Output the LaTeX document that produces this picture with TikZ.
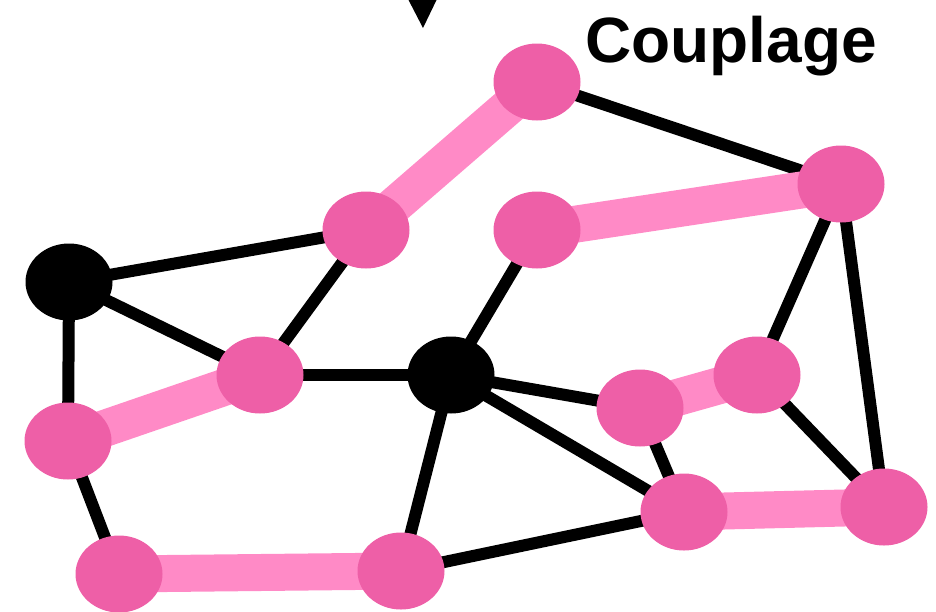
\documentclass[tikz,border=0pt]{standalone}
\usepackage{fontspec}
\setmainfont{Liberation Sans}
\usetikzlibrary{shapes.geometric,backgrounds}
\definecolor{vertexpink}{HTML}{EE5FA7}
\definecolor{matchpink}{HTML}{FF8AC6}
\tikzset{
  vtx/.style={ellipse, fill=vertexpink, minimum width=87pt, minimum height=77pt, inner sep=0pt},
  blackvtx/.style={vtx, fill=black},
  edge/.style={line width=12pt, black},
  matched/.style={line width=37pt, matchpink}
}
\begin{document}
\begin{tikzpicture}[x=1pt,y=-1pt]
\useasboundingbox (0,0) rectangle (936,611);
% vertices
\node[vtx] (a) at (537,82) {};
\node[vtx] (b) at (841,184) {};
\node[vtx] (c) at (366,230) {};
\node[vtx] (d) at (537,230) {};
\node[blackvtx] (k1) at (69,282) {};
\node[vtx] (e) at (260,375) {};
\node[blackvtx] (k2) at (451,375) {};
\node[vtx] (f) at (757,375) {};
\node[vtx] (g) at (640,408) {};
\node[vtx] (h) at (68,441) {};
\node[vtx] (i) at (684,512) {};
\node[vtx] (j) at (884,507) {};
\node[vtx] (l) at (119,574) {};
\node[vtx] (m) at (401,571) {};
% edges behind the vertices
\begin{scope}[on background layer]
  \foreach \u/\v in {a/b, c/k1, c/e, d/k2, b/f, b/j, k1/e, k1/h, e/k2,
                     k2/g, k2/i, k2/m, g/i, f/j, h/l, m/i}
    \draw[edge] (\u.center) -- (\v.center);
  \foreach \u/\v in {a/c, d/b, e/h, g/f, i/j, l/m}
    \draw[matched] (\u.center) -- (\v.center);
\end{scope}
% marker and title
\fill (408,-1) -- (437,-1) -- (423,28) -- cycle;
\node[anchor=base west, inner sep=0pt, font=\bfseries\fontsize{64}{70}\selectfont] (title) at (585,62) {Couplage};
\end{tikzpicture}
\end{document}
